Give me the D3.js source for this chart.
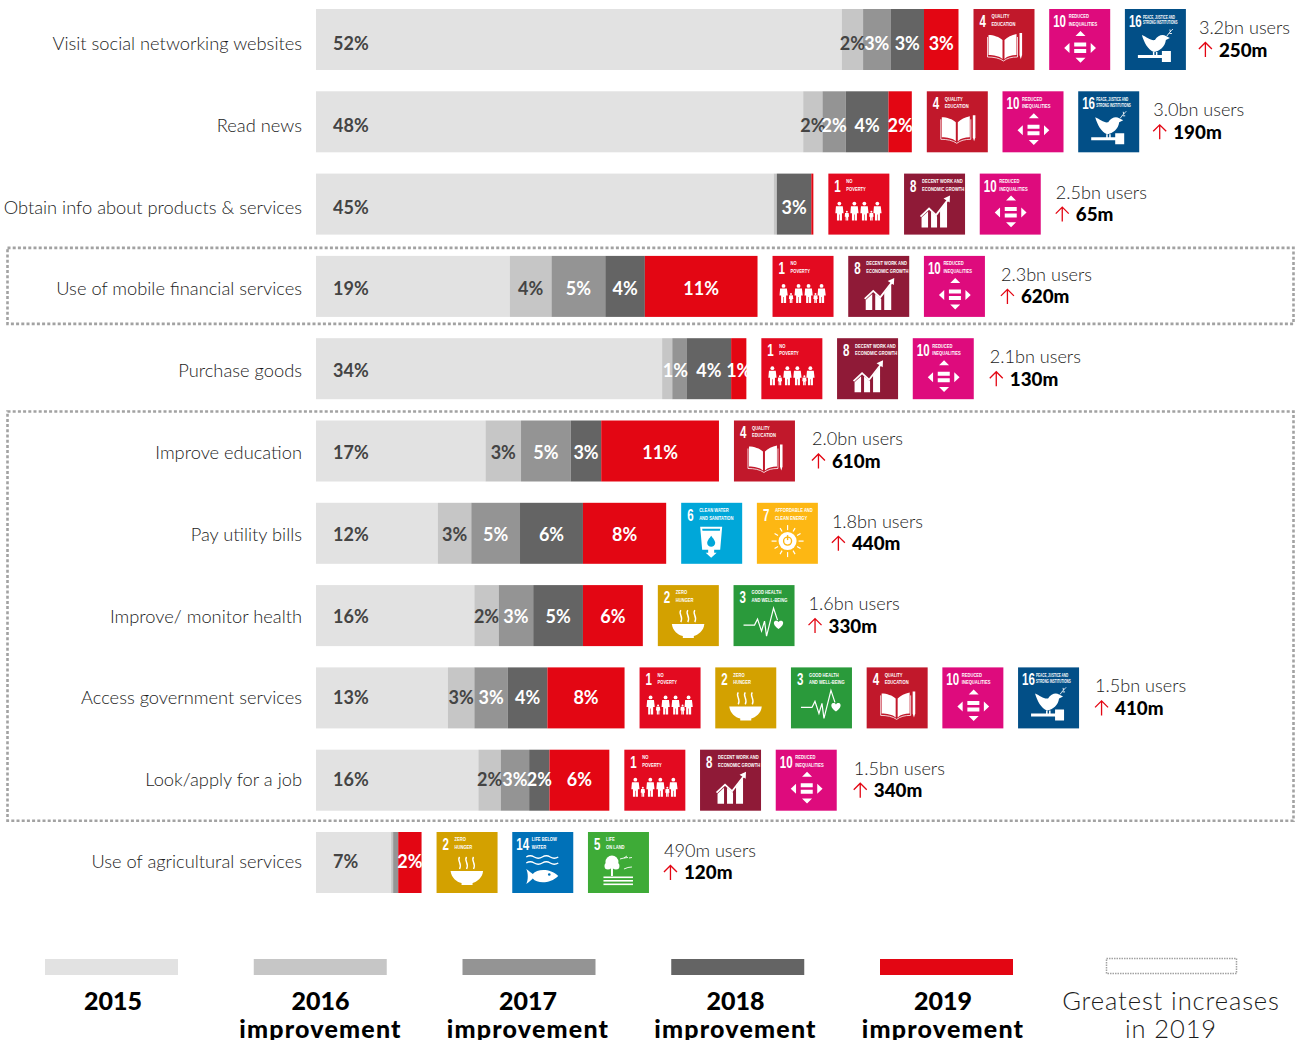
<!DOCTYPE html>
<html>
<head>
<meta charset="utf-8">
<script src="https://cdn.jsdelivr.net/npm/d3@7"></script>
<style>
html, body { margin: 0; padding: 0; background: #fff; overflow: hidden; }
svg { display: block; }
text { font-family: Lato, "Open Sans", sans-serif; }
.cat { font-size: 18.3px; font-weight: 300; fill: #1c1c1c; text-anchor: end; }
.pct { font-size: 18px; font-weight: 700; }
.users { font-size: 18.1px; font-weight: 300; fill: #1c1c1c; }
.gain { font-size: 18.8px; font-weight: 900; fill: #000; }
.sdgnum { font-family: "Liberation Sans", sans-serif; font-weight: 700; font-size: 17px; fill: #fff; }
.sdgtitle { font-family: "Liberation Sans", sans-serif; font-weight: 700; font-size: 6px; fill: #fff; }
.legbold { font-size: 25px; font-weight: 900; fill: #000; text-anchor: middle; }
.leglight { font-size: 25.5px; font-weight: 300; fill: #1c1c1c; text-anchor: middle; letter-spacing: 0.9px; }
</style>
</head>
<body>
<svg id="chart" width="1305" height="1040"></svg>
<script>
// 每一列的類別
var categories = ["Visit social networking websites", "Read news", "Obtain info about products & services",
    "Use of mobile financial services", "Purchase goods", "Improve education", "Pay utility bills",
    "Improve/ monitor health", "Access government services", "Look/apply for a job", "Use of agricultural services"];

// 各年度的數值 (%)
var base2015 = [51.8, 48.0, 45.1, 19.1, 34.1, 16.7, 12.0, 15.6, 13.0, 16.0, 7.4];
var imp2016 = [2.1, 1.9, 0.3, 4.1, 1.0, 3.5, 3.3, 2.4, 2.6, 2.2, 0.2];
var imp2017 = [2.7, 2.3, 0.0, 5.3, 1.4, 4.9, 4.8, 3.4, 3.3, 2.8, 0.5];
var imp2018 = [3.3, 4.2, 3.4, 3.9, 4.4, 3.0, 6.2, 4.9, 3.9, 2.0, 0.0];
var imp2019 = [3.4, 2.3, 0.2, 11.1, 1.5, 11.6, 8.2, 5.9, 7.6, 5.9, 2.3];

// 長條上的文字
var labels2015 = ["52%", "48%", "45%", "19%", "34%", "17%", "12%", "16%", "13%", "16%", "7%"];
var labels2016 = ["2%", "2%", "", "4%", "", "3%", "3%", "2%", "3%", "2%", ""];
var labels2017 = ["3%", "2%", "", "5%", "1%", "5%", "5%", "3%", "3%", "3%", ""];
var labels2018 = ["3%", "4%", "3%", "4%", "4%", "3%", "6%", "5%", "4%", "2%", ""];
var labels2019 = ["3%", "2%", "", "11%", "1%", "11%", "8%", "6%", "8%", "6%", "2%"];

var sdgGoals = [[4, 10, 16], [4, 10, 16], [1, 8, 10], [1, 8, 10], [1, 8, 10], [4], [6, 7], [2, 3],
    [1, 2, 3, 4, 10, 16], [1, 8, 10], [2, 14, 15]];
var usersText = ["3.2bn users", "3.0bn users", "2.5bn users", "2.3bn users", "2.1bn users", "2.0bn users",
    "1.8bn users", "1.6bn users", "1.5bn users", "1.5bn users", "490m users"];
var gainText = ["250m", "190m", "65m", "620m", "130m", "610m", "440m", "330m", "410m", "340m", "120m"];

var seriesKeys = ["y2015", "y2016", "y2017", "y2018", "y2019"];
var seriesColors = ["#e2e2e2", "#c6c6c6", "#949494", "#646464", "#e30613"];
var seriesLabels = [labels2015, labels2016, labels2017, labels2018, labels2019];
var legendTop = ["2015", "2016", "2017", "2018", "2019"];

var svg = d3.select("#chart");

var x = d3.scaleLinear().domain([0, 100]).range([316, 1331]);
var y = d3.scaleBand().domain(categories).range([9, 893]).paddingInner(0.2588).paddingOuter(0);
// 原圖文字的行距比長條略小
var labelY = d3.scalePoint().domain(categories).range([50, 868]);

var rows = categories.map(function(c, i) {
    return { cat: c, y2015: base2015[i], y2016: imp2016[i], y2017: imp2017[i], y2018: imp2018[i], y2019: imp2019[i] };
});
var stacked = d3.stack().keys(seriesKeys)(rows);

// 虛線框
var boxColor = "#a2a2a2";
function dottedBox(firstCat, lastCat, padTop, padBottom) {
    var top = y(firstCat) - padTop;
    svg.append("rect")
        .attr("x", 7.5)
        .attr("y", top)
        .attr("width", 1286)
        .attr("height", y(lastCat) + y.bandwidth() + padBottom - top)
        .attr("fill", "none")
        .attr("stroke", boxColor)
        .attr("stroke-width", 2.6)
        .attr("stroke-dasharray", "3 2.2");
}
dottedBox(categories[3], categories[3], 8, 7);
dottedBox(categories[5], categories[9], 9, 10);

// 類別文字
svg.selectAll("text.cat").data(categories).enter().append("text")
    .attr("class", "cat")
    .attr("x", 302)
    .attr("y", function(d) { return labelY(d); })
    .text(function(d) { return d; });

// 堆疊長條
stacked.forEach(function(s, k) {
    svg.append("g").selectAll("rect").data(s).enter().append("rect")
        .attr("x", function(d) { return x(d[0]); })
        .attr("y", function(d) { return y(d.data.cat); })
        .attr("width", function(d) { return x(d[1]) - x(d[0]); })
        .attr("height", y.bandwidth())
        .attr("fill", seriesColors[k]);
});

// 百分比文字
stacked.forEach(function(s, k) {
    svg.append("g").selectAll("text").data(s).enter().append("text")
        .attr("class", "pct")
        .attr("x", function(d, i) {
            if (k == 0) return 333;
            // 購物那一列的 1% 在原圖跨在兩段上
            var shift = (k == 2 && i == 4) ? -4 : 0;
            return (x(d[0]) + x(d[1])) / 2 + shift;
        })
        .attr("y", function(d) { return labelY(d.data.cat); })
        .attr("text-anchor", k == 0 ? "start" : "middle")
        .attr("fill", k < 2 ? "#444" : "#fff")
        .text(function(d, i) { return seriesLabels[k][i]; });
});

// SDG 圖示
var sdgInfo = {
    1: { num: "1", color: "#e30a20", lines: ["NO", "POVERTY"] },
    2: { num: "2", color: "#d3a100", lines: ["ZERO", "HUNGER"] },
    3: { num: "3", color: "#2a9a3b", lines: ["GOOD HEALTH", "AND WELL-BEING"] },
    4: { num: "4", color: "#c1182b", lines: ["QUALITY", "EDUCATION"] },
    6: { num: "6", color: "#00a7d9", lines: ["CLEAN WATER", "AND SANITATION"] },
    7: { num: "7", color: "#fdb713", lines: ["AFFORDABLE AND", "CLEAN ENERGY"] },
    8: { num: "8", color: "#8f1a37", lines: ["DECENT WORK AND", "ECONOMIC GROWTH"] },
    10: { num: "10", color: "#de0b7d", lines: ["REDUCED", "INEQUALITIES"] },
    14: { num: "14", color: "#0071b8", lines: ["LIFE BELOW", "WATER"] },
    15: { num: "5", color: "#3eab37", lines: ["LIFE", "ON LAND"] },
    16: { num: "16", color: "#024f87", lines: ["PEACE, JUSTICE AND", "STRONG INSTITUTIONS"] }
};

function person(g, cx, top, h) {
    var s = h / 19;
    g.append("circle").attr("cx", cx).attr("cy", top + 2 * s).attr("r", 1.9 * s).attr("fill", "#fff");
    g.append("path").attr("fill", "#fff")
        .attr("d", "M" + (cx - 3.4 * s) + " " + (top + 4.6 * s) + "h" + (6.8 * s) + "l" + (0.8 * s) + " " + (7 * s)
            + "h" + (-1.6 * s) + "v" + (7.4 * s) + "h" + (-2.2 * s) + "v" + (-6 * s) + "h" + (-0.6 * s) + "v" + (6 * s)
            + "h" + (-2.2 * s) + "v" + (-7.4 * s) + "h" + (-1.6 * s) + "z");
}

var pictos = {
    1: function(g) {
        person(g, 11, 28, 19); person(g, 18.5, 37, 10); person(g, 26, 28, 19);
        person(g, 36, 28, 19); person(g, 43, 37, 10); person(g, 49, 28, 19);
    },
    2: function(g) {
        g.append("path").attr("fill", "#fff").attr("d", "M14 39H46.5C46 46 40 50 36 51V53H25V51C20 50 15 46 14 39Z");
        [23, 30, 37].forEach(function(c) {
            g.append("path").attr("fill", "none").attr("stroke", "#fff").attr("stroke-width", 1.4)
                .attr("d", "M" + c + " 25c-3 4 3 6 0 12");
        });
    },
    3: function(g) {
        g.append("path").attr("fill", "none").attr("stroke", "#fff").attr("stroke-width", 1.2)
            .attr("d", "M10 40H21L24 34L28 46L31 36L33 51L40 23L44 35");
        g.append("path").attr("fill", "#fff").attr("d", "M45 44C41 41 40 39 40.5 37C41.5 35 44 35.5 45 37C46 35.5 48.5 35 49.5 37C50 39 49 41 45 44Z");
    },
    4: function(g) {
        g.append("path").attr("fill", "#fff").attr("d", "M15 26C20 26 26 28 29 31V50C26 47 20 46 15 46ZM31 31C34 28 38 26 43 25V46C38 46 34 47 31 50Z");
        g.append("path").attr("fill", "none").attr("stroke", "#fff").attr("stroke-width", 0.8).attr("d", "M14 28V48C20 48 26 49 30 52C34 49 38 48 44 48V28");
        g.append("path").attr("fill", "#fff").attr("d", "M46 24H48.6V46L47.3 50L46 46Z");
    },
    6: function(g) {
        g.append("path").attr("fill", "#fff").attr("d", "M19 24H41L39 47H33V50H35.5L30 55L24.5 50H27V47H21ZM21 26L21.3 28H38.7L39 26Z");
        g.append("path").attr("fill", "#00a7d9").attr("d", "M30 33C33 37 34 38.5 34 40.2C34 42.5 32 44 30 44C28 44 26 42.5 26 40.2C26 38.5 27 37 30 33Z");
    },
    7: function(g) {
        var c = [30.7, 38.3];
        d3.range(12).forEach(function(i) {
            var a = i * Math.PI / 6, r0 = 11, r1 = i % 3 == 0 ? 16 : 15;
            g.append("line").attr("stroke", "#fff").attr("stroke-width", 1.2)
                .attr("x1", c[0] + r0 * Math.cos(a)).attr("y1", c[1] + r0 * Math.sin(a))
                .attr("x2", c[0] + r1 * Math.cos(a)).attr("y2", c[1] + r1 * Math.sin(a));
        });
        g.append("circle").attr("cx", c[0]).attr("cy", c[1]).attr("r", 9).attr("fill", "#fff");
        g.append("circle").attr("cx", c[0]).attr("cy", c[1]).attr("r", 4).attr("fill", "none").attr("stroke", "#fdb713").attr("stroke-width", 1.4);
        g.append("line").attr("x1", c[0]).attr("x2", c[0]).attr("y1", c[1] - 6).attr("y2", c[1] - 1).attr("stroke", "#fdb713").attr("stroke-width", 1.4);
    },
    8: function(g) {
        g.append("path").attr("fill", "#fff").attr("d", "M17.5 44L24 38V54H17.5ZM27 38L33 43V54H27ZM36 37L43 28V54H36Z");
        g.append("path").attr("fill", "none").attr("stroke", "#fff").attr("stroke-width", 1.8).attr("d", "M16.5 43L25 35L32 41.5L44 26");
        g.append("path").attr("fill", "#fff").attr("d", "M39.5 25L46 22L45.6 29Z");
    },
    10: function(g) {
        g.append("path").attr("fill", "#fff").attr("d", "M31.3 22L36.3 27H26.3ZM31.3 53.7L26.3 48.7H36.3ZM15 39L20.3 34V44ZM46.8 39L41.5 44V34ZM25 33.5H37V37.5H25ZM25 40H37V44H25Z");
    },
    14: function(g) {
        [25, 31].forEach(function(w) {
            g.append("path").attr("fill", "none").attr("stroke", "#fff").attr("stroke-width", 1.3)
                .attr("d", "M14 " + w + "q4 -2.5 8 0t8 0t8 0t8 0");
        });
        g.append("path").attr("fill", "#fff").attr("d", "M14 37C17 39 19 41 20.5 42C25 36.5 38 36 46 44C38 52 25 52 20.5 46.5C19 48 17 50 14 52C16 48 16 41 14 37Z");
        g.append("circle").attr("cx", 37).attr("cy", 42.5).attr("r", 1.3).attr("fill", "#0071b8");
    },
    15: function(g) {
        g.append("circle").attr("cx", 24).attr("cy", 30).attr("r", 6.5).attr("fill", "#fff");
        g.append("circle").attr("cx", 20).attr("cy", 34).attr("r", 3.5).attr("fill", "#fff");
        g.append("circle").attr("cx", 28).attr("cy", 34).attr("r", 3.5).attr("fill", "#fff");
        g.append("rect").attr("x", 23).attr("y", 34).attr("width", 2).attr("height", 10).attr("fill", "#fff");
        [44.5, 48, 51.5].forEach(function(l) {
            g.append("rect").attr("x", 15.5).attr("y", l).attr("width", 29.5).attr("height", 1.6).attr("fill", "#fff");
        });
        g.append("path").attr("fill", "none").attr("stroke", "#fff").attr("stroke-width", 0.9)
            .attr("d", "M32 27L36 26L39 24M36 26L40 25.5M36 37L40 35.5L44 35M41 26L44 25.5");
    },
    16: function(g) {
        g.append("path").attr("fill", "#fff").attr("d", "M17 26C22 28 26 32 30 31C33 26 38 25 41 27L45 29L41 31C40 38 35 42 29 43C23 41 19 33 17 26Z");
        g.append("path").attr("fill", "none").attr("stroke", "#fff").attr("stroke-width", 0.9).attr("d", "M42 27C44 24 46 22 48 20M44.5 24.5L47 24.5M45.5 23L45 20.5");
        g.append("path").attr("fill", "#fff").attr("d", "M13 46H37V42H46V53H37V49H13ZM28 43H29.5V46H28ZM31 43H32.5V46H31Z");
    }
};

var iconSize = y.bandwidth(), iconStep = 75.7, iconGap = 15;
// 圖示與右側文字之間的距離，每列略有不同
var afterIcons = [13, 14, 15, 16, 16, 17, 14, 14, 16, 17, 15];

rows.forEach(function(r, i) {
    var top = y(r.cat);
    var barEnd = x(stacked[4][i][1]);
    var left = barEnd + iconGap;

    sdgGoals[i].forEach(function(goal, j) {
        var info = sdgInfo[goal];
        var wide = info.num.length > 1;
        var g = svg.append("g").attr("transform", "translate(" + (left + j * iconStep) + "," + top + ")");
        g.append("rect").attr("width", iconSize).attr("height", iconSize).attr("fill", info.color);
        g.append("text").attr("class", "sdgnum")
            .attr("transform", "translate(" + (wide ? 4 : 6) + ",18) scale(0.68,1)")
            .text(info.num);
        info.lines.forEach(function(t, n) {
            var isSmall = goal == 16;
            g.append("text").attr("class", "sdgtitle")
                .attr("transform", "translate(" + (isSmall ? 18 : wide ? 19.5 : 18) + "," + (isSmall ? 10 + n * 5.4 : 9.4 + n * 7.6) + ") scale(" + (isSmall ? 0.56 : 0.68) + ",1)")
                .style("font-size", isSmall ? "5.4px" : null)
                .text(t);
        });
        pictos[goal](g);
    });

    var tx = left + (sdgGoals[i].length - 1) * iconStep + iconSize + afterIcons[i];
    svg.append("text").attr("class", "users").attr("x", tx).attr("y", top + 25).text(usersText[i]);
    svg.append("path").attr("fill", "none").attr("stroke", "#e30613").attr("stroke-width", 1.3)
        .attr("d", "M" + tx + " " + (top + 40) + "l6.5 -6.5l6.5 6.5M" + (tx + 6.5) + " " + (top + 34) + "v14");
    svg.append("text").attr("class", "gain").attr("x", tx + 20).attr("y", top + 47.5).text(gainText[i]);
});

// 圖例
var legendX = d3.scalePoint().domain(legendTop).range([45, 880]);
var legendText = d3.scalePoint().domain(legendTop).range([113, 943]);
svg.append("g").selectAll("rect").data(legendTop).enter().append("rect")
    .attr("x", function(d) { return legendX(d); })
    .attr("y", 959)
    .attr("width", 133)
    .attr("height", 16)
    .attr("fill", function(d, i) { return seriesColors[i]; });
svg.selectAll("text.legyear").data(legendTop).enter().append("text")
    .attr("class", "legbold legyear")
    .attr("x", function(d) { return legendText(d); })
    .attr("y", 1010)
    .text(function(d) { return d; });
svg.selectAll("text.legimp").data(legendTop.slice(1)).enter().append("text")
    .attr("class", "legbold legimp")
    .attr("x", function(d) { return legendText(d); })
    .attr("y", 1038)
    .style("letter-spacing", "1.2px")
    .text("improvement");

svg.append("rect").attr("x", 1106.5).attr("y", 958.5).attr("width", 130).attr("height", 15)
    .attr("fill", "none").attr("stroke", boxColor).attr("stroke-width", 1.5).attr("stroke-dasharray", "1.5 1");
svg.append("text").attr("class", "leglight").attr("x", 1171).attr("y", 1010).text("Greatest increases");
svg.append("text").attr("class", "leglight").attr("x", 1171).attr("y", 1038).text("in 2019");
</script>
</body>
</html>
